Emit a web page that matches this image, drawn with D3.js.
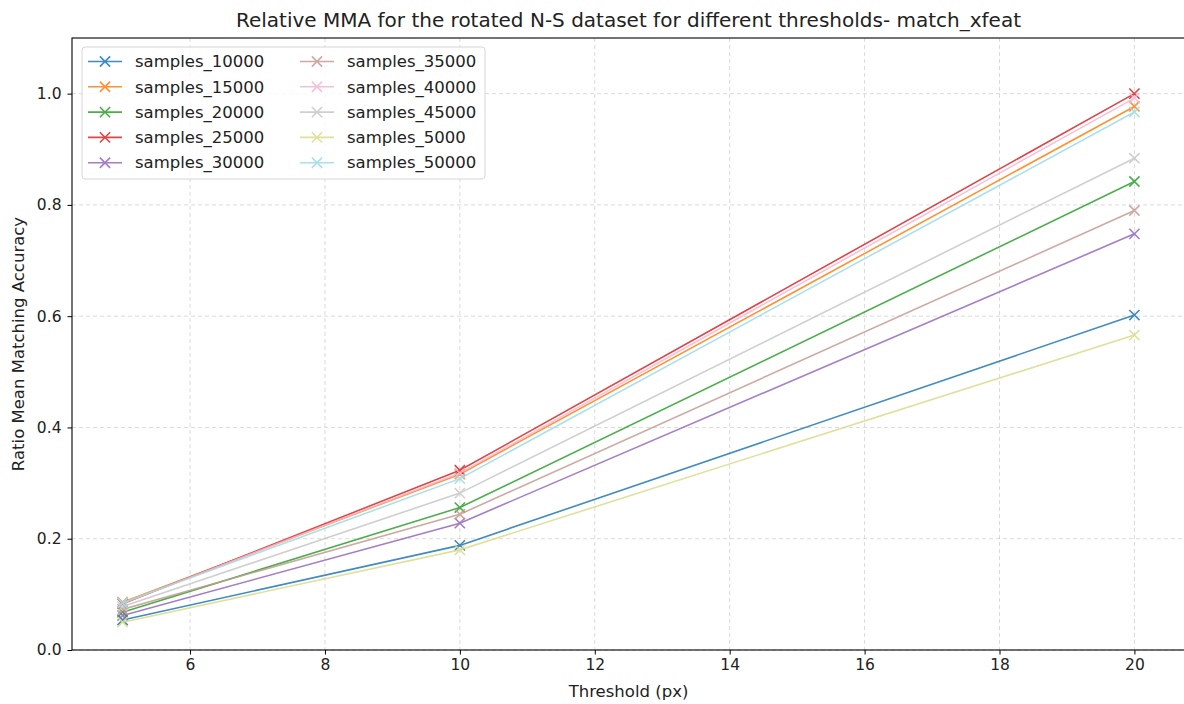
<!DOCTYPE html>
<html>
<head>
<meta charset="utf-8">
<script src="https://cdn.jsdelivr.net/npm/d3@7"></script>
<style>
  body { margin: 0; background: #fff; }
  svg { display: block; font-family: "DejaVu Sans", sans-serif; }
</style>
</head>
<body>
<svg id="chart" width="1184" height="704"></svg>
<script>
const thresholds = [5, 10, 20];
const seriesNames = ["samples_10000", "samples_15000", "samples_20000", "samples_25000", "samples_30000",
                     "samples_35000", "samples_40000", "samples_45000", "samples_5000", "samples_50000"];
const samples_10000 = [0.054, 0.188, 0.602];
const samples_15000 = [0.086, 0.316, 0.977];
const samples_20000 = [0.068, 0.256, 0.842];
const samples_25000 = [0.083, 0.323, 1.000];
const samples_30000 = [0.062, 0.228, 0.748];
const samples_35000 = [0.073, 0.244, 0.790];
const samples_40000 = [0.084, 0.318, 0.992];
const samples_45000 = [0.078, 0.282, 0.884];
const samples_5000  = [0.050, 0.180, 0.566];
const samples_50000 = [0.085, 0.308, 0.967];
const seriesValues = [samples_10000, samples_15000, samples_20000, samples_25000, samples_30000,
                      samples_35000, samples_40000, samples_45000, samples_5000, samples_50000];
const seriesColors = ["#1f77b4", "#ff7f0e", "#2ca02c", "#d62728", "#9467bd",
                      "#c49c94", "#f7b6d2", "#c7c7c7", "#dbdb8d", "#9edae5"];
const xTicks = [6, 8, 10, 12, 14, 16, 18, 20];
const yTicks = [0.0, 0.2, 0.4, 0.6, 0.8, 1.0];
const titleText = "Relative MMA for the rotated N-S dataset for different thresholds- match_xfeat";
const xLabelText = "Threshold (px)";
const yLabelText = "Ratio Mean Matching Accuracy";

const svg = d3.select("#chart");
const L = 72, R = 1185, T = 38, B = 650;
const x = d3.scaleLinear().domain([4.25, 20.75]).range([L, R]);
const y = d3.scaleLinear().domain([0, 1.1]).range([B, T]);

// grid
const grid = svg.append("g");
grid.selectAll("line.gx").data(xTicks).join("line")
  .attr("x1", d => x(d)).attr("x2", d => x(d)).attr("y1", T).attr("y2", B)
  .attr("stroke", "#b0b0b0").attr("stroke-opacity", 0.6).attr("stroke-width", 0.8).attr("stroke-dasharray", "4,3");
grid.selectAll("line.gy").data(yTicks).join("line")
  .attr("y1", d => y(d)).attr("y2", d => y(d)).attr("x1", L).attr("x2", R)
  .attr("stroke", "#b0b0b0").attr("stroke-opacity", 0.6).attr("stroke-width", 0.8).attr("stroke-dasharray", "4,3");

// axes
const xAxis = svg.append("g").attr("transform", `translate(0,${B})`)
  .call(d3.axisBottom(x).tickValues(xTicks).tickFormat(d3.format("d")).tickSize(4.5).tickPadding(4));
const yAxis = svg.append("g").attr("transform", `translate(${L},0)`)
  .call(d3.axisLeft(y).tickValues(yTicks).tickFormat(d3.format(".1f")).tickSize(4.5).tickPadding(6));
[xAxis, yAxis].forEach(a => {
  a.select(".domain").remove();
  a.selectAll("line").attr("stroke", "#000").attr("stroke-width", 1);
  a.selectAll("text").attr("font-family", "DejaVu Sans").attr("font-size", 15.5).attr("fill", "#222");
});
// spines
svg.append("rect").attr("x", L).attr("y", T).attr("width", R - L).attr("height", B - T)
  .attr("fill", "none").attr("stroke", "#000").attr("stroke-width", 1.1);

// lines
const line = d3.line().x((d, i) => x(thresholds[i])).y(d => y(d));
const plot = svg.append("g");
seriesValues.forEach((vals, k) => {
  const g = plot.append("g").attr("opacity", 0.85);
  g.append("path").datum(vals).attr("d", line).attr("fill", "none")
    .attr("stroke", seriesColors[k]).attr("stroke-width", 1.6);
  g.selectAll("path.m").data(vals).join("path").attr("class", "m")
    .attr("d", d3.symbol(d3.symbolX, 70)())
    .attr("transform", (d, i) => `translate(${x(thresholds[i])},${y(d)})`)
    .attr("fill", "none").attr("stroke", seriesColors[k]).attr("stroke-width", 1.6);
});

// legend
const lg = svg.append("g");
lg.append("rect").attr("x", 82).attr("y", 47).attr("width", 403).attr("height", 132).attr("rx", 3)
  .attr("fill", "#fff").attr("fill-opacity", 0.8).attr("stroke", "#d6d6d6");
seriesNames.forEach((name, k) => {
  const col = Math.floor(k / 5), row = k % 5;
  const lx = 88 + col * 212, ly = 61.5 + row * 25.3;
  const g = lg.append("g").attr("opacity", 0.85);
  g.append("line").attr("x1", lx).attr("x2", lx + 34).attr("y1", ly).attr("y2", ly)
    .attr("stroke", seriesColors[k]).attr("stroke-width", 1.6);
  g.append("path").attr("d", d3.symbol(d3.symbolX, 70)())
    .attr("transform", `translate(${lx + 17},${ly})`)
    .attr("fill", "none").attr("stroke", seriesColors[k]).attr("stroke-width", 1.6);
  lg.append("text").attr("x", lx + 47).attr("y", ly).attr("dy", "0.35em")
    .attr("font-size", 16.5).attr("fill", "#222").text(name);
});

// title and labels
svg.append("text").attr("x", (L + R) / 2).attr("y", 27).attr("text-anchor", "middle")
  .attr("font-size", 20).attr("fill", "#222").text(titleText);
svg.append("text").attr("x", (L + R) / 2).attr("y", 697).attr("text-anchor", "middle")
  .attr("font-size", 16.5).attr("fill", "#222").text(xLabelText);
svg.append("text").attr("transform", `translate(24,${(T + B) / 2}) rotate(-90)`).attr("text-anchor", "middle")
  .attr("font-size", 16.5).attr("fill", "#222").text(yLabelText);
</script>
</body>
</html>
